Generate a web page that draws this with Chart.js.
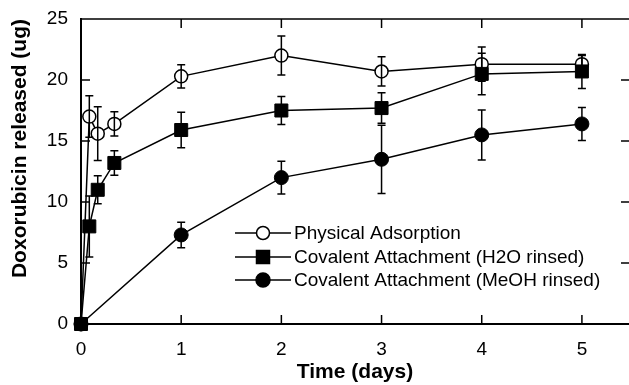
<!DOCTYPE html>
<html lang="en">
<head>
<meta charset="UTF-8">
<title>Doxorubicin release</title>
<script src="https://cdn.jsdelivr.net/npm/chart.js"></script>
<style>
  body { margin: 0; background: #fff; }
</style>
</head>
<body>
<canvas id="releaseChart" width="629" height="385"></canvas>
<script>
// sampling times (days): 2h, 4h, 8h then daily
const earlyDays = [0, 0.083, 0.167, 0.333, 1, 2, 3, 4, 5];
const meohDays = [0, 1, 2, 3, 4, 5];

const physicalVals = [0, 17.0, 15.6, 16.4, 20.3, 22.0, 20.7, 21.3, 21.3];
const physicalErr  = [0, 1.7, 2.2, 1.0, 0.95, 1.6, 1.2, 1.4, 0.7];

const h2oVals = [0, 8.0, 11.0, 13.2, 15.9, 17.5, 17.7, 20.5, 20.7];
const h2oErr  = [0, 2.5, 1.15, 1.0, 1.45, 1.15, 1.25, 1.7, 1.4];

const meohVals = [0, 7.3, 12.0, 13.5, 15.5, 16.4];
const meohErr  = [0, 1.05, 1.35, 2.8, 2.05, 1.35];

const seriesLabels = ['Physical Adsorption', 'Covalent Attachment (H2O rinsed)', 'Covalent Attachment (MeOH rinsed)'];
const xTicks = [0, 1, 2, 3, 4, 5];
const yTicks = [0, 5, 10, 15, 20, 25];

const fontFamily = '"Liberation Sans", Arial, Helvetica, sans-serif';

function toPoints(days, vals) {
    return days.map((d, i) => ({ x: d, y: vals[i] }));
}

// error bars with caps, drawn over the markers
const errorBars = {
    id: 'errorBars',
    afterDatasetsDraw(chart) {
        const { ctx, scales: { x, y } } = chart;
        ctx.save();
        ctx.strokeStyle = '#000';
        ctx.lineWidth = 1.5;
        chart.data.datasets.forEach(ds => {
            ds.data.forEach((pt, i) => {
                const e = ds.errors[i];
                if (!e) return;
                const px = x.getPixelForValue(pt.x);
                const top = y.getPixelForValue(pt.y + e);
                const bot = y.getPixelForValue(pt.y - e);
                ctx.beginPath();
                ctx.moveTo(px, top); ctx.lineTo(px, bot);
                ctx.moveTo(px - 4, top); ctx.lineTo(px + 4, top);
                ctx.moveTo(px - 4, bot); ctx.lineTo(px + 4, bot);
                ctx.stroke();
            });
        });
        ctx.restore();
    }
};

// top border + inward tick marks on all four sides
const frame = {
    id: 'frame',
    afterDraw(chart) {
        const { ctx, chartArea: a, scales: { x, y } } = chart;
        ctx.save();
        ctx.strokeStyle = '#000';
        ctx.lineWidth = 1.5;
        ctx.beginPath();
        ctx.moveTo(a.left, a.top); ctx.lineTo(a.right, a.top);
        x.ticks.forEach(t => {
            const px = x.getPixelForValue(t.value);
            ctx.moveTo(px, a.bottom); ctx.lineTo(px, a.bottom - 9);
            ctx.moveTo(px, a.top); ctx.lineTo(px, a.top + 9);
        });
        y.ticks.forEach(t => {
            const py = y.getPixelForValue(t.value);
            ctx.moveTo(a.left, py); ctx.lineTo(a.left + 9, py);
            ctx.moveTo(a.right, py); ctx.lineTo(a.right - 8, py);
        });
        ctx.stroke();
        ctx.restore();
    }
};

// legend: line with marker in the middle, then label
const lineLegend = {
    id: 'lineLegend',
    afterDraw(chart) {
        const ctx = chart.ctx;
        const x0 = 235, x1 = 291, rows = [233, 257, 280];
        ctx.save();
        ctx.font = '19px ' + fontFamily;
        ctx.textBaseline = 'middle';
        chart.data.datasets.forEach((ds, i) => {
            const yy = rows[i];
            const mx = (x0 + x1) / 2;
            ctx.strokeStyle = '#000';
            ctx.lineWidth = 1.5;
            ctx.beginPath();
            ctx.moveTo(x0, yy); ctx.lineTo(x1, yy);
            ctx.stroke();
            ctx.beginPath();
            if (ds.pointStyle === 'rect') {
                ctx.rect(mx - 6.5, yy - 6.5, 13, 13);
            } else {
                ctx.arc(mx, yy, ds.pointRadius, 0, Math.PI * 2);
            }
            ctx.fillStyle = ds.pointBackgroundColor;
            ctx.fill();
            ctx.stroke();
            ctx.fillStyle = '#000';
            ctx.fillText(ds.label, x1 + 3, yy + 1);
        });
        ctx.restore();
    }
};

const ctx = document.getElementById('releaseChart').getContext('2d');

new Chart(ctx, {
    type: 'line',
    data: {
        datasets: [{
            label: seriesLabels[0],
            data: toPoints(earlyDays, physicalVals),
            errors: physicalErr,
            borderColor: '#000',
            borderWidth: 1.5,
            pointStyle: 'circle',
            pointRadius: 6.5,
            pointBackgroundColor: '#fff',
            pointBorderColor: '#000',
            pointBorderWidth: 1.5,
            order: 3,
            clip: false
        }, {
            label: seriesLabels[1],
            data: toPoints(earlyDays, h2oVals),
            errors: h2oErr,
            borderColor: '#000',
            borderWidth: 1.5,
            pointStyle: 'rect',
            pointRadius: 9.2,
            pointBackgroundColor: '#000',
            pointBorderColor: '#000',
            pointBorderWidth: 1,
            order: 1,
            clip: false
        }, {
            label: seriesLabels[2],
            data: toPoints(meohDays, meohVals),
            errors: meohErr,
            borderColor: '#000',
            borderWidth: 1.5,
            pointStyle: 'circle',
            pointRadius: 7,
            pointBackgroundColor: '#000',
            pointBorderColor: '#000',
            pointBorderWidth: 1,
            order: 2,
            clip: false
        }]
    },
    options: {
        responsive: false,
        animation: false,
        layout: { autoPadding: false, padding: { top: 19, right: 0, left: 0, bottom: 0 } },
        plugins: {
            legend: { display: false },
            tooltip: { enabled: false }
        },
        scales: {
            x: {
                type: 'linear',
                min: 0,
                max: 5.47,
                afterBuildTicks: s => { s.ticks = xTicks.map(v => ({ value: v })); },
                afterFit: s => { s.height = 61; s.paddingLeft = 0; s.paddingRight = 0; },
                ticks: {
                    color: '#000',
                    padding: 14,
                    font: { family: fontFamily, size: 19 }
                },
                grid: { display: true, drawOnChartArea: false, drawTicks: false },
                border: { display: true, color: '#000', width: 2 },
                title: {
                    display: true,
                    text: 'Time (days)',
                    color: '#000',
                    padding: { top: 0, bottom: 0 },
                    font: { family: fontFamily, size: 21, weight: 'bold' }
                }
            },
            y: {
                min: 0,
                max: 25,
                afterBuildTicks: s => { s.ticks = yTicks.map(v => ({ value: v })); },
                afterFit: s => { s.width = 81; s.paddingTop = 0; s.paddingBottom = 0; },
                ticks: {
                    color: '#000',
                    padding: 13,
                    font: { family: fontFamily, size: 19 }
                },
                grid: { display: true, drawOnChartArea: false, drawTicks: false },
                border: { display: true, color: '#000', width: 2 },
                title: {
                    display: true,
                    text: 'Doxorubicin released (ug)',
                    color: '#000',
                    align: 'end',
                    padding: { top: 8, bottom: 0 },
                    font: { family: fontFamily, size: 21, weight: 'bold' }
                }
            }
        }
    },
    plugins: [errorBars, frame, lineLegend]
});
</script>
</body>
</html>
